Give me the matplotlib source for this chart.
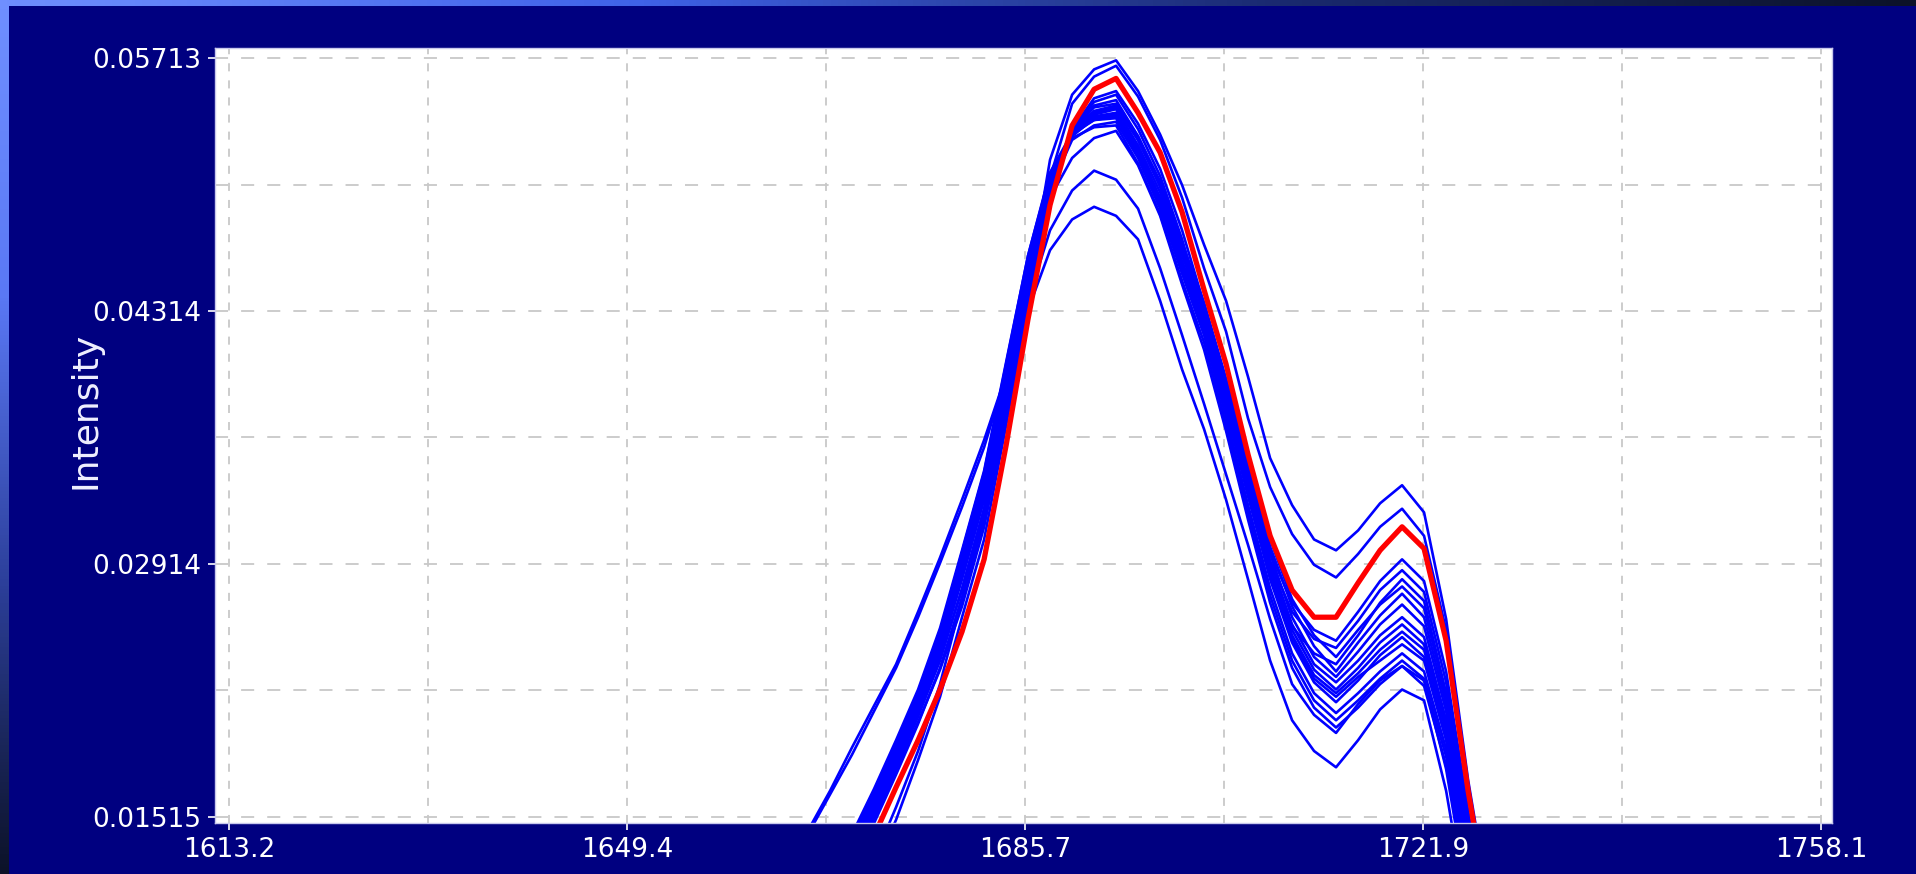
import matplotlib.pyplot as plt
import numpy as np
from matplotlib.colors import LinearSegmentedColormap

# wavenumber axis of the spectra (cm-1)
wavenumber = [1663.90, 1665.90, 1667.91, 1669.91, 1671.91, 1673.92, 1675.92, 1677.92,
              1679.92, 1681.93, 1683.93, 1685.93, 1687.93, 1689.94, 1691.94, 1693.94,
              1695.94, 1697.95, 1699.95, 1701.95, 1703.95, 1705.95, 1707.96, 1709.96,
              1711.96, 1713.96, 1715.97, 1717.97, 1719.97, 1721.97, 1723.98, 1725.98,
              1727.98]

red_spectrum = [0.0040, 0.0065, 0.0089, 0.0115, 0.0141, 0.0168, 0.0194, 0.0222, 0.0254,
                0.0294, 0.0357, 0.0427, 0.0490, 0.0534, 0.0554, 0.0560, 0.0541, 0.0519,
                0.0486, 0.0443, 0.0402, 0.0352, 0.0307, 0.0277, 0.0262, 0.0262, 0.0281,
                0.0299, 0.0312, 0.0300, 0.0249, 0.0166, 0.0095]

blue_spectra = [
    [0.0030, 0.0055, 0.0075, 0.0100, 0.0128, 0.0157, 0.0188, 0.0225, 0.0272, 0.0316, 0.0377,
     0.0443, 0.0515, 0.0551, 0.0565, 0.0570, 0.0553, 0.0529, 0.0501, 0.0468, 0.0437, 0.0395,
     0.0350, 0.0324, 0.0305, 0.0299, 0.0310, 0.0325, 0.0335, 0.0320, 0.0261, 0.0172, 0.0100],
    [0.0025, 0.0048, 0.0070, 0.0095, 0.0122, 0.0150, 0.0183, 0.0218, 0.0262, 0.0305, 0.0368,
     0.0436, 0.0505, 0.0546, 0.0561, 0.0567, 0.0550, 0.0526, 0.0494, 0.0455, 0.0420, 0.0372,
     0.0334, 0.0308, 0.0291, 0.0284, 0.0297, 0.0312, 0.0322, 0.0307, 0.0255, 0.0168, 0.0098],
    [0.0045, 0.0072, 0.0098, 0.0124, 0.0150, 0.0177, 0.0204, 0.0233, 0.0268, 0.0312, 0.0372,
     0.0435, 0.0492, 0.0532, 0.0549, 0.0553, 0.0535, 0.0510, 0.0476, 0.0435, 0.0392, 0.0342,
     0.0298, 0.0270, 0.0255, 0.0249, 0.0265, 0.0282, 0.0294, 0.0282, 0.0232, 0.0155, 0.0085],
    [0.0050, 0.0076, 0.0102, 0.0128, 0.0154, 0.0181, 0.0209, 0.0240, 0.0277, 0.0322, 0.0380,
     0.0440, 0.0494, 0.0531, 0.0547, 0.0551, 0.0532, 0.0506, 0.0471, 0.0429, 0.0386, 0.0337,
     0.0293, 0.0265, 0.0250, 0.0245, 0.0260, 0.0277, 0.0288, 0.0276, 0.0226, 0.0150, 0.0082],
    [0.0055, 0.0080, 0.0106, 0.0132, 0.0158, 0.0185, 0.0214, 0.0246, 0.0285, 0.0330, 0.0388,
     0.0446, 0.0496, 0.0530, 0.0545, 0.0548, 0.0528, 0.0501, 0.0465, 0.0423, 0.0379, 0.0330,
     0.0285, 0.0257, 0.0242, 0.0236, 0.0252, 0.0270, 0.0283, 0.0271, 0.0220, 0.0146, 0.0078],
    [0.0058, 0.0084, 0.0110, 0.0135, 0.0161, 0.0188, 0.0216, 0.0248, 0.0289, 0.0334, 0.0394,
     0.0452, 0.0500, 0.0530, 0.0542, 0.0545, 0.0526, 0.0500, 0.0464, 0.0432, 0.0389, 0.0342,
     0.0297, 0.0262, 0.0240, 0.0229, 0.0243, 0.0258, 0.0269, 0.0257, 0.0210, 0.0138, 0.0072],
    [0.0060, 0.0086, 0.0112, 0.0137, 0.0163, 0.0190, 0.0218, 0.0251, 0.0293, 0.0338, 0.0398,
     0.0456, 0.0503, 0.0530, 0.0540, 0.0543, 0.0523, 0.0497, 0.0462, 0.0430, 0.0386, 0.0338,
     0.0293, 0.0258, 0.0236, 0.0226, 0.0238, 0.0252, 0.0262, 0.0251, 0.0205, 0.0134, 0.0070],
    [0.0062, 0.0088, 0.0113, 0.0138, 0.0164, 0.0191, 0.0219, 0.0253, 0.0296, 0.0340, 0.0400,
     0.0459, 0.0505, 0.0530, 0.0539, 0.0541, 0.0521, 0.0494, 0.0459, 0.0427, 0.0383, 0.0335,
     0.0290, 0.0255, 0.0233, 0.0222, 0.0234, 0.0248, 0.0258, 0.0247, 0.0202, 0.0131, 0.0068],
    [0.0056, 0.0082, 0.0108, 0.0133, 0.0159, 0.0186, 0.0214, 0.0246, 0.0288, 0.0333, 0.0394,
     0.0454, 0.0502, 0.0528, 0.0538, 0.0540, 0.0520, 0.0493, 0.0457, 0.0425, 0.0381, 0.0333,
     0.0287, 0.0252, 0.0230, 0.0220, 0.0231, 0.0244, 0.0254, 0.0244, 0.0199, 0.0129, 0.0066],
    [0.0064, 0.0090, 0.0115, 0.0140, 0.0165, 0.0192, 0.0220, 0.0254, 0.0298, 0.0342, 0.0402,
     0.0462, 0.0508, 0.0530, 0.0537, 0.0538, 0.0518, 0.0490, 0.0454, 0.0421, 0.0377, 0.0329,
     0.0283, 0.0248, 0.0226, 0.0215, 0.0227, 0.0241, 0.0251, 0.0240, 0.0195, 0.0126, 0.0064],
    [0.0052, 0.0078, 0.0104, 0.0129, 0.0155, 0.0182, 0.0210, 0.0242, 0.0283, 0.0327, 0.0388,
     0.0449, 0.0499, 0.0526, 0.0534, 0.0536, 0.0516, 0.0488, 0.0452, 0.0418, 0.0373, 0.0324,
     0.0278, 0.0242, 0.0220, 0.0209, 0.0220, 0.0232, 0.0242, 0.0232, 0.0189, 0.0122, 0.0062],
    [0.0060, 0.0086, 0.0111, 0.0136, 0.0162, 0.0189, 0.0217, 0.0250, 0.0293, 0.0337, 0.0397,
     0.0457, 0.0504, 0.0527, 0.0533, 0.0534, 0.0513, 0.0485, 0.0448, 0.0414, 0.0369, 0.0320,
     0.0274, 0.0238, 0.0216, 0.0205, 0.0216, 0.0228, 0.0238, 0.0228, 0.0185, 0.0118, 0.0060],
    [0.0054, 0.0080, 0.0106, 0.0131, 0.0157, 0.0184, 0.0212, 0.0244, 0.0285, 0.0330, 0.0390,
     0.0450, 0.0494, 0.0516, 0.0527, 0.0531, 0.0512, 0.0484, 0.0446, 0.0410, 0.0365, 0.0316,
     0.0270, 0.0234, 0.0212, 0.0201, 0.0212, 0.0225, 0.0235, 0.0224, 0.0180, 0.0114, 0.0056],
    [0.0048, 0.0074, 0.0100, 0.0126, 0.0152, 0.0179, 0.0207, 0.0238, 0.0278, 0.0322, 0.0383,
     0.0444, 0.0497, 0.0529, 0.0541, 0.0544, 0.0526, 0.0501, 0.0467, 0.0434, 0.0391, 0.0345,
     0.0301, 0.0268, 0.0246, 0.0232, 0.0248, 0.0263, 0.0275, 0.0262, 0.0214, 0.0141, 0.0074],
    [0.0066, 0.0092, 0.0117, 0.0142, 0.0167, 0.0194, 0.0222, 0.0256, 0.0299, 0.0343, 0.0403,
     0.0462, 0.0507, 0.0529, 0.0537, 0.0539, 0.0519, 0.0492, 0.0456, 0.0423, 0.0379, 0.0331,
     0.0285, 0.0250, 0.0228, 0.0218, 0.0229, 0.0238, 0.0247, 0.0238, 0.0194, 0.0125, 0.0063],
    [0.0044, 0.0070, 0.0096, 0.0122, 0.0148, 0.0175, 0.0203, 0.0234, 0.0273, 0.0318, 0.0378,
     0.0441, 0.0496, 0.0531, 0.0544, 0.0546, 0.0528, 0.0503, 0.0469, 0.0436, 0.0394, 0.0348,
     0.0305, 0.0272, 0.0252, 0.0240, 0.0255, 0.0269, 0.0279, 0.0267, 0.0218, 0.0144, 0.0076],
    [0.0111, 0.0142, 0.0164, 0.0186, 0.0210, 0.0234, 0.0262, 0.0292, 0.0323, 0.0356, 0.0396,
     0.0437, 0.0476, 0.0498, 0.0509, 0.0504, 0.0488, 0.0455, 0.0418, 0.0380, 0.0341, 0.0302,
     0.0261, 0.0225, 0.0208, 0.0198, 0.0214, 0.0227, 0.0235, 0.0227, 0.0178, 0.0106, 0.0050],
    [0.0117, 0.0144, 0.0166, 0.0190, 0.0213, 0.0236, 0.0265, 0.0295, 0.0327, 0.0360, 0.0396,
     0.0432, 0.0465, 0.0482, 0.0489, 0.0484, 0.0471, 0.0437, 0.0399, 0.0366, 0.0327, 0.0283,
     0.0238, 0.0205, 0.0188, 0.0179, 0.0194, 0.0211, 0.0222, 0.0216, 0.0166, 0.0095, 0.0040],
]

x_ticks = [1613.2, 1649.425, 1685.65, 1721.875, 1758.1]
x_tick_labels = ["1613.2", "1649.4", "1685.7", "1721.9", "1758.1"]
x_grid = [1631.3125, 1667.5375, 1703.7625, 1739.9875]
y_ticks = [0.01515, 0.029143, 0.043137, 0.05713]
y_tick_labels = ["0.01515", "0.02914", "0.04314", "0.05713"]
y_grid = [0.022147, 0.03614, 0.050133]

W, H = 1916, 874
plt.rcParams['lines.scale_dashes'] = False
fig = plt.figure(figsize=(W / 100, H / 100), dpi=100, facecolor='#000080')

# light gradient strips along the top and left edge of the slide
top = fig.add_axes([0, 1 - 6 / H, 1, 6 / H])
top.imshow(np.linspace(0, 1, 256).reshape(1, -1), aspect='auto',
           cmap=LinearSegmentedColormap.from_list('t', ['#6f8fff', '#3f62e8', '#1a2a70', '#0c1228']))
top.axis('off')
left = fig.add_axes([0, 0, 9 / W, 1 - 6 / H])
left.imshow(np.linspace(0, 1, 256).reshape(-1, 1), aspect='auto',
            cmap=LinearSegmentedColormap.from_list('l', ['#6f8fff', '#5a78f5', '#2c3f9a', '#0c1228']))
left.axis('off')

ax = fig.add_axes([215 / W, 51 / H, 1617 / W, 775 / H])
ax.set_facecolor('white')
for spec in blue_spectra:
    ax.plot(wavenumber, spec, color='#0000ff', lw=1.9)
ax.plot(wavenumber, red_spectrum, color='#ff0000', lw=3.8)

ax.set_xlim(1611.93, 1759.1)
ax.set_ylim(0.014818, 0.057683)
ax.set_xticks(x_ticks)
ax.set_xticklabels(x_tick_labels)
ax.set_xticks(x_grid, minor=True)
ax.set_yticks(y_ticks)
ax.set_yticklabels(y_tick_labels)
ax.set_yticks(y_grid, minor=True)
ax.set_axisbelow(True)
ax.grid(which='both', axis='x', color='#c8c8c8', lw=1.3, linestyle=(0, (5.8, 6.5)))
ax.grid(which='both', axis='y', color='#c8c8c8', lw=1.3, linestyle=(0, (9.4, 9.4)))
ax.tick_params(which='minor', length=0)
ax.tick_params(which='major', colors='white', length=5, width=1.2, labelsize=19)
ax.tick_params(axis='x', pad=5)
ax.tick_params(axis='y', pad=5)
for s in ax.spines.values():
    s.set_color('#c8c8ec')
    s.set_linewidth(1.0)

fig.text(86 / W, 1 - 410 / H, "Intensity", rotation=90, color='#f0f0ff',
         fontsize=26, ha='center', va='center')

plt.savefig('out.png', dpi=100, facecolor=fig.get_facecolor())
